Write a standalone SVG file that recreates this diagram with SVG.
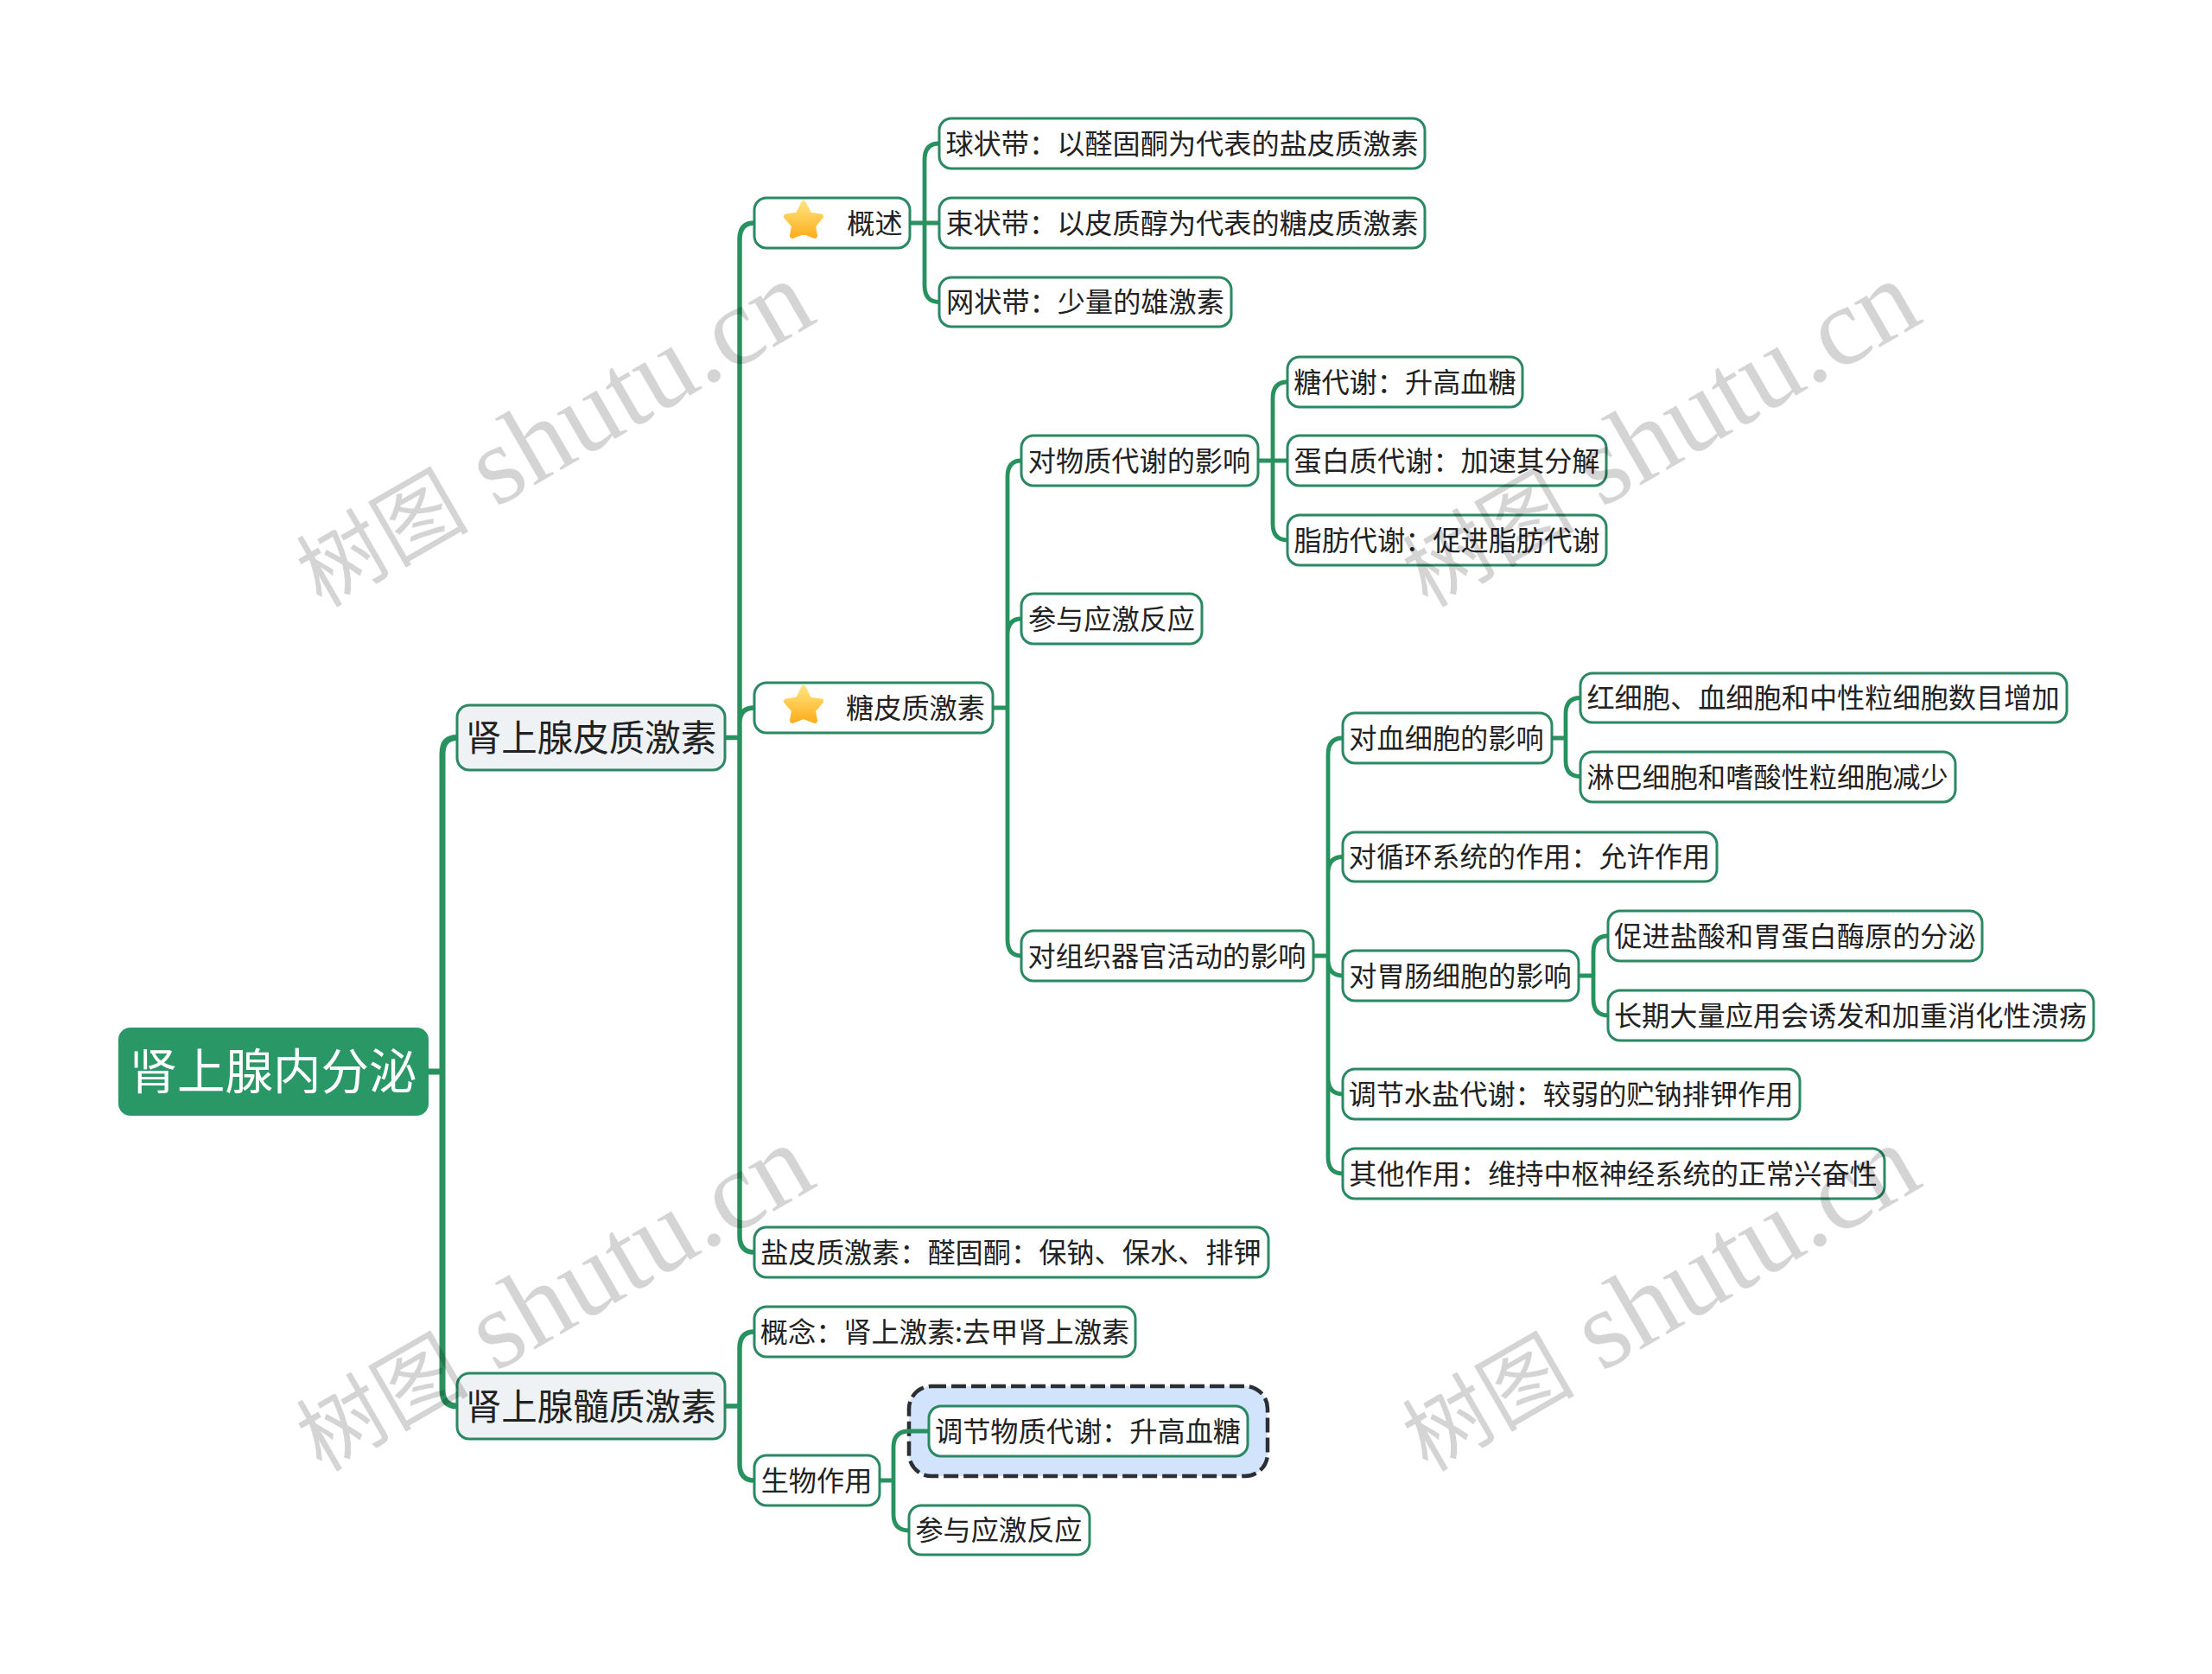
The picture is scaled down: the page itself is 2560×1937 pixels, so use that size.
<svg xmlns="http://www.w3.org/2000/svg" width="2560" height="1937" viewBox="0 0 2560 1937">
<style>
text{font-family:"Noto Sans CJK SC","Noto Sans",sans-serif;fill:#222;text-anchor:middle}
.b{fill:#fff;stroke:#2a8862;stroke-width:3}
.t{font-size:32.2px}
.l1{fill:#eef2f5;stroke:#2a8862;stroke-width:3}
.l1t{font-size:42px}
.c{fill:none;stroke:#28925f;stroke-width:4.8}
.c1{fill:none;stroke:#28925f;stroke-width:5.5}
.c0{fill:none;stroke:#28925f;stroke-width:7}
.w{font-family:"Liberation Serif","Noto Sans CJK SC",serif;font-size:129px;fill:#000;fill-opacity:.17;text-anchor:start}
.wc{font-size:100px}
</style>
<defs>
<linearGradient id="sg" x1="0" y1="0" x2="0" y2="1"><stop offset="0" stop-color="#ffe27a"/><stop offset="1" stop-color="#fdb022"/></linearGradient>
<path id="star" d="M0,-19 L6.500,-5.500 L20,-3.500 L11,7 L13,19 L0,14 L-13,19 L-11,7 L-20,-3.500 L-6.500,-5.500Z" fill="url(#sg)" stroke="url(#sg)" stroke-width="6" stroke-linejoin="round"/>
</defs>
<rect width="2560" height="1937" fill="#fff"/>
<g id="n-highlight"><rect x="1052" y="1604" width="415" height="104" rx="26" fill="#d2e3fc" stroke="#2b2f33" stroke-width="4.500" stroke-dasharray="17 6"/></g>
<g id="connectors">
<path class="c0" d="M496,1240H512M512,1240V872Q512,853.500 529,853.500M512,1240V1608Q512,1627 529,1627"/>
<path class="c1" d="M839,853.500H856M856,853.500V277Q856,258 873,258M856,853.500V836Q856,819 873,819M856,853.500V1430Q856,1449 873,1449"/>
<path class="c1" d="M839,1627H856M856,1627V1560Q856,1541 873,1541M856,1627V1694Q856,1713 873,1713"/>
<path class="c" d="M1053,258H1087M1070,258V185Q1070,166 1087,166M1070,258V330Q1070,349.500 1087,349.500"/>
<path class="c" d="M1149,819H1166M1166,819V552Q1166,533 1182,533M1166,819V735Q1166,716 1182,716M1166,819V1087Q1166,1106 1182,1106"/>
<path class="c" d="M1456,533H1490M1473,533V461Q1473,442 1490,442M1473,533V606Q1473,625 1490,625"/>
<path class="c" d="M1520,1106H1537M1537,1106V873Q1537,854 1554,854M1537,1106V1010Q1537,991.500 1554,991.500M1537,1106V1110Q1537,1129 1554,1129M1537,1106V1247Q1537,1266 1554,1266M1537,1106V1339Q1537,1358 1554,1358"/>
<path class="c" d="M1796,854H1812M1812,854V826Q1812,807.500 1829,807.500M1812,854V880Q1812,898.500 1829,898.500"/>
<path class="c" d="M1827,1129H1844M1844,1129V1102Q1844,1083 1861,1083M1844,1129V1156Q1844,1175 1861,1175"/>
<path class="c" d="M1017.600,1713H1034M1034,1713V1675Q1034,1656 1052,1656H1075M1034,1713V1752Q1034,1771 1052,1771"/>
</g>
<g id="n-root"><rect x="137" y="1189" width="359" height="102" rx="14" fill="#2a9866"/><text x="316" y="1260" style="font-size:55.500px;fill:#fff">肾上腺内分泌</text></g>
<g id="n-a"><rect class="l1" x="529" y="816" width="310" height="75" rx="14"/><text class="l1t" x="684" y="869" style="font-size:41.500px">肾上腺皮质激素</text></g>
<g id="n-b"><rect class="l1" x="529" y="1589" width="310" height="76" rx="14"/><text class="l1t" x="684" y="1643" style="font-size:41.500px">肾上腺髓质激素</text></g>
<g id="n-gaishu"><rect class="b" x="873" y="229" width="180" height="58" rx="14"/><use href="#star" x="930" y="254"/><text class="t" x="1012.500" y="270">概述</text></g>
<g id="n-tang"><rect class="b" x="873" y="790" width="276" height="58" rx="14"/><use href="#star" x="930" y="815"/><text class="t" x="1059.500" y="831">糖皮质激素</text></g>
<g id="n-yan"><rect class="b" x="873" y="1420" width="595" height="58" rx="14"/><text class="t" x="1170" y="1461">盐皮质激素：醛固酮：保钠、保水、排钾</text></g>
<g id="n-1"><rect class="b" x="1087" y="137" width="562" height="58" rx="14"/><text class="t" x="1368" y="178">球状带：以醛固酮为代表的盐皮质激素</text></g>
<g id="n-2"><rect class="b" x="1087" y="229" width="562" height="58" rx="14"/><text class="t" x="1368" y="270">束状带：以皮质醇为代表的糖皮质激素</text></g>
<g id="n-3"><rect class="b" x="1087" y="321" width="338" height="57" rx="14"/><text class="t" x="1256" y="361">网状带：少量的雄激素</text></g>
<g id="n-4"><rect class="b" x="1182" y="504" width="274" height="58" rx="14"/><text class="t" x="1318.500" y="545">对物质代谢的影响</text></g>
<g id="n-5"><rect class="b" x="1182" y="687" width="209" height="58" rx="14"/><text class="t" x="1286.500" y="728">参与应激反应</text></g>
<g id="n-6"><rect class="b" x="1182" y="1077" width="338" height="58" rx="14"/><text class="t" x="1350.500" y="1118">对组织器官活动的影响</text></g>
<g id="n-7"><rect class="b" x="1490" y="413" width="272" height="58" rx="14"/><text class="t" x="1626" y="454">糖代谢：升高血糖</text></g>
<g id="n-8"><rect class="b" x="1490" y="504" width="369" height="58" rx="14"/><text class="t" x="1674.500" y="545">蛋白质代谢：加速其分解</text></g>
<g id="n-9"><rect class="b" x="1490" y="596" width="369" height="58" rx="14"/><text class="t" x="1674.500" y="637">脂肪代谢：促进脂肪代谢</text></g>
<g id="n-10"><rect class="b" x="1554" y="825" width="242" height="58" rx="14"/><text class="t" x="1674" y="866">对血细胞的影响</text></g>
<g id="n-11"><rect class="b" x="1829" y="779" width="563" height="57" rx="14"/><text class="t" x="2110" y="819">红细胞、血细胞和中性粒细胞数目增加</text></g>
<g id="n-12"><rect class="b" x="1829" y="870" width="434" height="58" rx="14"/><text class="t" x="2045.500" y="911">淋巴细胞和嗜酸性粒细胞减少</text></g>
<g id="n-13"><rect class="b" x="1554" y="963" width="433" height="57" rx="14"/><text class="t" x="1770" y="1003">对循环系统的作用：允许作用</text></g>
<g id="n-14"><rect class="b" x="1554" y="1100" width="273" height="58" rx="14"/><text class="t" x="1690" y="1141">对胃肠细胞的影响</text></g>
<g id="n-15"><rect class="b" x="1861" y="1054" width="433" height="58" rx="14"/><text class="t" x="2077.500" y="1095">促进盐酸和胃蛋白酶原的分泌</text></g>
<g id="n-16"><rect class="b" x="1861" y="1146" width="562" height="58" rx="14"/><text class="t" x="2141.500" y="1187">长期大量应用会诱发和加重消化性溃疡</text></g>
<g id="n-17"><rect class="b" x="1554" y="1237" width="529" height="58" rx="14"/><text class="t" x="1818" y="1278">调节水盐代谢：较弱的贮钠排钾作用</text></g>
<g id="n-18"><rect class="b" x="1554" y="1329" width="627" height="58" rx="14"/><text class="t" x="1867" y="1370">其他作用：维持中枢神经系统的正常兴奋性</text></g>
<g id="n-19"><rect class="b" x="873" y="1512" width="441" height="58" rx="14"/><text class="t" x="1093.500" y="1553">概念：肾上激素:去甲肾上激素</text></g>
<g id="n-20"><rect class="b" x="873" y="1684" width="145" height="58" rx="14"/><text class="t" x="945" y="1725">生物作用</text></g>
<g id="n-21"><rect class="b" x="1075" y="1627" width="369" height="58" rx="14"/><text class="t" x="1259" y="1668">调节物质代谢：升高血糖</text></g>
<g id="n-22"><rect class="b" x="1052" y="1742" width="209" height="57" rx="14"/><text class="t" x="1156" y="1782">参与应激反应</text></g>
<g id="watermark">
<text class="w" transform="translate(372,704) rotate(-30)"><tspan class="wc">树图</tspan> shutu.cn</text>
<text class="w" transform="translate(1652,704) rotate(-30)"><tspan class="wc">树图</tspan> shutu.cn</text>
<text class="w" transform="translate(372,1704) rotate(-30)"><tspan class="wc">树图</tspan> shutu.cn</text>
<text class="w" transform="translate(1652,1704) rotate(-30)"><tspan class="wc">树图</tspan> shutu.cn</text>
</g>
</svg>
